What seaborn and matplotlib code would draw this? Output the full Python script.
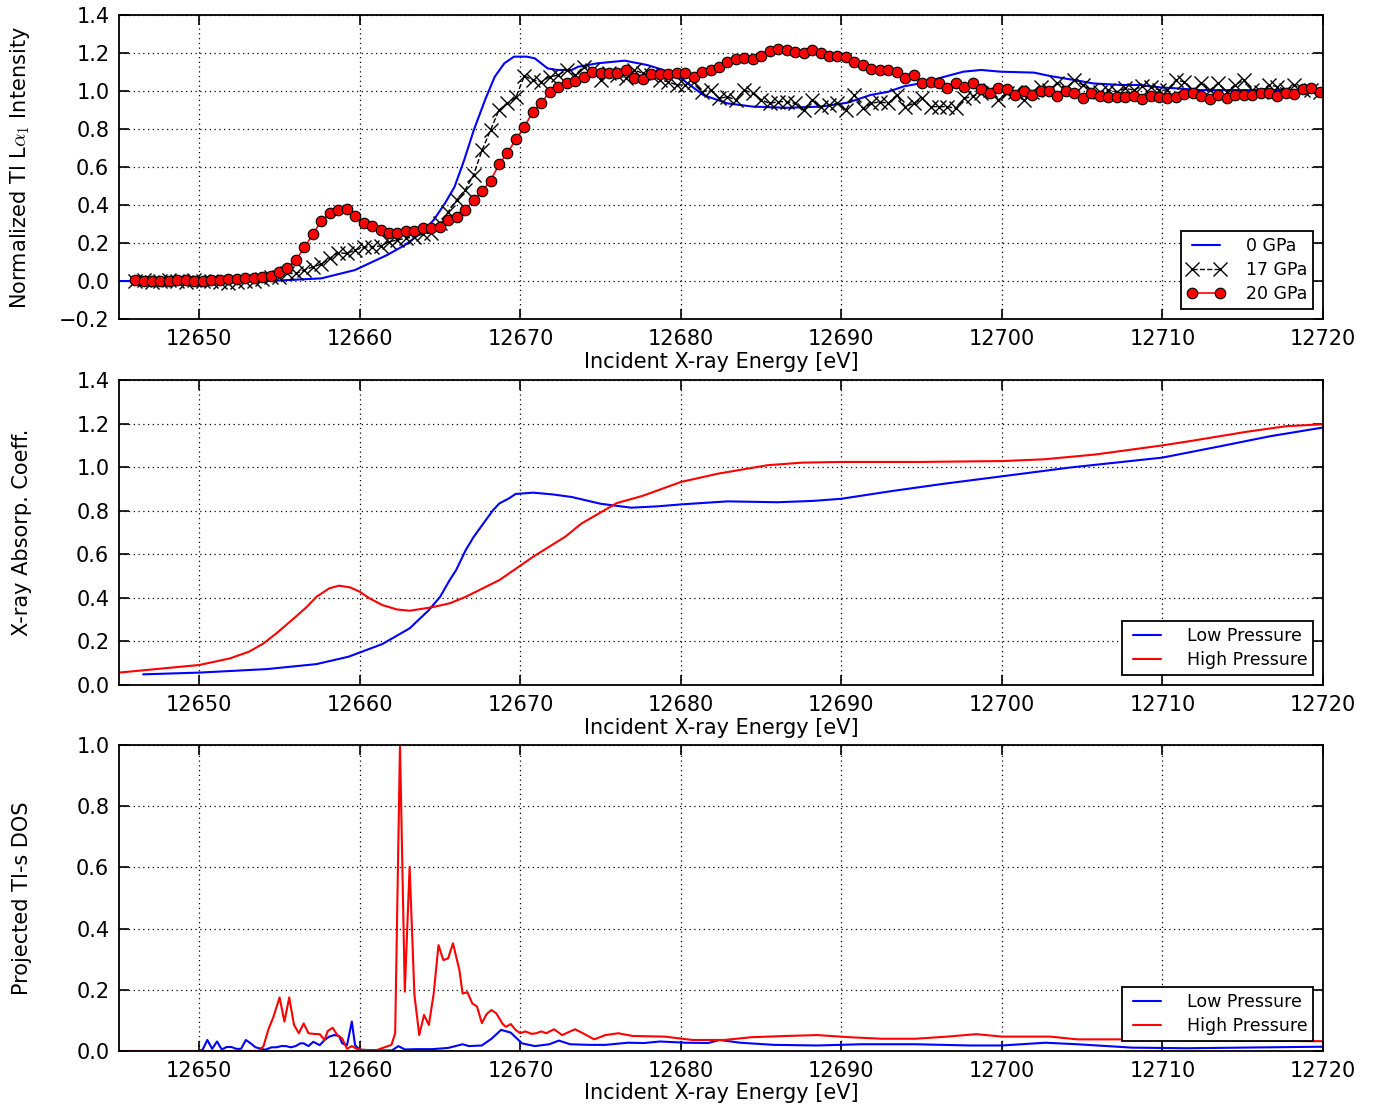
import numpy as np
import pandas as pd
import matplotlib
matplotlib.use("Agg")
from matplotlib import pyplot as plt
import seaborn as sns

# ---------------- top panel: normalized Tl L-alpha1 intensity ----------------
energy_0gpa = [12645.0, 12650.0, 12655.0, 12657.6, 12659.7, 12661.7, 12662.8, 12663.8, 12664.6, 12665.3,
               12665.9, 12666.5, 12667.1, 12667.8, 12668.4, 12669.0, 12669.6, 12670.4, 12670.9, 12671.7,
               12672.3, 12673.2, 12673.6, 12674.8, 12676.5, 12677.9, 12678.9, 12680.0, 12681.4, 12682.9,
               12684.5, 12686.6, 12688.7, 12690.4, 12691.8, 12692.9, 12693.9, 12694.9, 12696.4, 12697.6,
               12698.7, 12699.9, 12702.0, 12703.0, 12704.5, 12705.7, 12707.4, 12708.6, 12709.9, 12710.9,
               12712.4, 12713.8, 12715.5, 12717.5, 12720.0]
intensity_0gpa = [0.0, 0.0, 0.003, 0.014, 0.058, 0.137, 0.189, 0.251, 0.321, 0.409,
                  0.496, 0.637, 0.795, 0.953, 1.075, 1.146, 1.181, 1.181, 1.172, 1.119,
                  1.111, 1.111, 1.128, 1.146, 1.160, 1.137, 1.111, 1.067, 0.979, 0.935,
                  0.918, 0.912, 0.918, 0.939, 0.979, 0.996, 1.025, 1.040, 1.075, 1.102,
                  1.111, 1.102, 1.097, 1.079, 1.058, 1.040, 1.032, 1.032, 1.019, 1.014,
                  1.005, 1.005, 1.005, 1.005, 0.996]

# the 17 and 20 GPa scans share one energy grid (141 points)
energy_scan = np.linspace(12646.0, 12719.8, 141)
intensity_17gpa = [0.0, 0.005, -0.005, 0.0, 0.005, 0.0, -0.005, 0.005, 0.0, 0.0,
                   -0.005, -0.01, -0.005, 0.0, 0.0, 0.01, 0.023, 0.023, 0.040, 0.040,
                   0.058, 0.075, 0.089, 0.119, 0.149, 0.145, 0.163, 0.177, 0.181, 0.184,
                   0.207, 0.216, 0.225, 0.233, 0.247, 0.254, 0.303, 0.365, 0.426, 0.479,
                   0.558, 0.689, 0.795, 0.900, 0.935, 0.967,
                   1.080, 1.058, 1.049, 1.075, 1.084, 1.111, 1.084, 1.128, 1.111, 1.058,
                   1.093, 1.084, 1.067, 1.111, 1.093, 1.084, 1.058, 1.049, 1.032, 1.032,
                   1.049, 0.996, 1.005, 0.961, 0.970, 0.953, 1.005, 0.988, 0.953, 0.935,
                   0.944, 0.944, 0.935, 0.900, 0.953, 0.918, 0.926, 0.935, 0.900, 0.979,
                   0.909, 0.935, 0.944, 0.935, 0.979, 0.918, 0.935, 0.961,
                   0.918, 0.918, 0.918, 0.909, 0.961, 0.974, 0.988, 1.005, 0.953, 0.988,
                   0.996, 0.953, 0.996, 1.023, 1.005, 1.040, 1.014, 1.058, 1.032, 1.005,
                   0.996, 1.005, 0.996, 1.014, 1.005, 1.026, 1.023, 1.005, 1.005, 1.058,
                   1.049, 1.005, 1.040, 1.005, 1.040, 0.996, 1.032, 1.058, 1.005, 0.996,
                   1.032, 1.023, 1.005, 1.032, 1.005, 1.005, 0.996]
intensity_20gpa = [0.005, 0.001, 0.001, 0.001, 0.001, 0.005, 0.005, 0.001, 0.001, 0.005,
                   0.005, 0.009, 0.009, 0.014, 0.014, 0.023, 0.028, 0.046, 0.070, 0.111,
                   0.177, 0.246, 0.316, 0.356, 0.374, 0.379, 0.342, 0.307, 0.291, 0.268,
                   0.254, 0.254, 0.265, 0.265, 0.277, 0.281, 0.286, 0.321, 0.339, 0.374,
                   0.426, 0.474, 0.528, 0.614, 0.675, 0.746,
                   0.812, 0.891, 0.939, 0.996, 1.023, 1.040, 1.054, 1.072, 1.102, 1.097,
                   1.097, 1.097, 1.111, 1.070, 1.063, 1.088, 1.088, 1.088, 1.093, 1.097,
                   1.075, 1.102, 1.111, 1.128, 1.151, 1.167, 1.172, 1.167, 1.186, 1.211,
                   1.219, 1.216, 1.207, 1.202, 1.214, 1.202, 1.186, 1.186, 1.181, 1.154,
                   1.137, 1.116, 1.111, 1.111, 1.102, 1.067, 1.084, 1.044,
                   1.049, 1.044, 1.014, 1.044, 1.023, 1.040, 1.009, 0.988, 1.014, 1.009,
                   0.979, 1.002, 0.979, 1.000, 1.000, 0.974, 1.000, 0.988, 0.961, 0.988,
                   0.974, 0.970, 0.967, 0.970, 0.974, 0.956, 0.974, 0.967, 0.961, 0.967,
                   0.984, 0.988, 0.974, 0.956, 0.979, 0.961, 0.979, 0.979, 0.979, 0.991,
                   0.991, 0.974, 0.991, 0.984, 1.009, 1.018, 0.996]

# ---------------- middle panel: calculated absorption coefficient ----------------
energy_abs_low = [12646.5, 12650.0, 12654.2, 12657.3, 12659.3, 12661.4, 12663.1, 12664.3, 12665.0, 12665.6,
                  12666.0, 12666.6, 12667.1, 12667.7, 12668.3, 12668.7, 12669.3, 12669.7, 12670.8, 12672.0,
                  12673.2, 12675.0, 12676.9, 12678.5, 12680.0, 12682.9, 12686.0, 12688.2, 12690.0, 12693.2,
                  12696.4, 12700.0, 12704.2, 12710.0, 12713.6, 12716.7, 12720.0]
absorp_low = [0.049, 0.057, 0.073, 0.096, 0.130, 0.188, 0.260, 0.344, 0.405, 0.482,
              0.528, 0.620, 0.681, 0.742, 0.803, 0.834, 0.857, 0.877, 0.883, 0.875,
              0.863, 0.832, 0.814, 0.820, 0.829, 0.843, 0.839, 0.845, 0.855, 0.891,
              0.924, 0.958, 0.998, 1.044, 1.096, 1.142, 1.182]
energy_abs_high = [12645.0, 12650.0, 12651.9, 12653.1, 12654.0, 12654.8, 12655.4, 12656.0, 12656.7, 12657.3,
                   12658.1, 12658.7, 12659.4, 12660.0, 12660.6, 12661.4, 12662.3, 12663.1, 12664.5, 12665.6,
                   12666.6, 12668.7, 12670.8, 12672.8, 12673.8, 12676.0, 12677.6, 12680.0, 12682.3, 12685.4,
                   12687.6, 12690.0, 12694.8, 12700.0, 12702.6, 12705.8, 12710.0, 12712.0, 12715.2, 12717.7,
                   12720.0]
absorp_high = [0.057, 0.092, 0.122, 0.153, 0.191, 0.237, 0.275, 0.313, 0.359, 0.405,
               0.444, 0.456, 0.448, 0.428, 0.398, 0.367, 0.347, 0.341, 0.357, 0.375,
               0.405, 0.482, 0.589, 0.681, 0.741, 0.835, 0.868, 0.932, 0.970, 1.009,
               1.021, 1.024, 1.024, 1.028, 1.036, 1.058, 1.100, 1.123, 1.162, 1.188,
               1.197]

# ---------------- bottom panel: projected Tl-s DOS ----------------
energy_dos_low = [12650.0, 12650.2, 12650.5, 12650.8, 12651.1, 12651.4, 12651.7, 12652.0, 12652.3, 12652.6,
                  12652.9, 12653.2, 12653.5, 12653.8, 12654.1, 12654.5, 12654.8, 12655.1, 12655.4, 12655.7,
                  12656.0, 12656.3, 12656.5, 12656.8, 12657.1, 12657.5, 12657.8, 12658.1, 12658.4, 12658.7,
                  12658.9, 12659.2, 12659.5, 12659.7, 12660.0, 12661.0, 12662.0, 12662.4, 12662.8, 12663.5,
                  12664.5, 12665.5, 12666.4, 12666.8, 12667.6, 12668.2, 12668.8, 12669.4, 12670.1, 12670.9,
                  12671.8, 12672.4, 12673.1, 12674.3, 12675.3, 12676.7, 12677.7, 12678.7, 12680.3, 12681.7,
                  12682.4, 12683.7, 12685.8, 12688.5, 12691.2, 12694.6, 12698.0, 12700.0, 12702.7, 12704.7,
                  12708.1, 12711.5, 12714.9, 12720.0]
dos_low = [0.0, 0.004, 0.036, 0.007, 0.031, 0.005, 0.013, 0.013, 0.007, 0.007,
           0.036, 0.025, 0.012, 0.008, 0.004, 0.012, 0.012, 0.016, 0.016, 0.012,
           0.016, 0.025, 0.025, 0.016, 0.030, 0.019, 0.036, 0.047, 0.052, 0.049,
           0.025, 0.019, 0.096, 0.019, 0.004, 0.002, 0.002, 0.016, 0.005, 0.006,
           0.006, 0.010, 0.022, 0.016, 0.018, 0.040, 0.069, 0.060, 0.025, 0.016,
           0.022, 0.034, 0.022, 0.020, 0.020, 0.027, 0.026, 0.031, 0.027, 0.026,
           0.036, 0.027, 0.020, 0.018, 0.022, 0.022, 0.018, 0.018, 0.027, 0.022,
           0.011, 0.009, 0.011, 0.014]
energy_dos_high = [12645.0, 12653.7, 12654.0, 12654.3, 12654.6, 12655.0, 12655.3, 12655.6, 12655.9, 12656.2,
                   12656.5, 12656.8, 12657.1, 12657.5, 12657.8, 12658.0, 12658.3, 12658.6, 12658.9, 12659.2,
                   12659.5, 12659.8, 12660.1, 12661.0, 12661.97, 12662.2, 12662.5, 12662.8, 12663.1, 12663.4,
                   12663.7, 12664.0, 12664.3, 12664.6, 12664.9, 12665.2, 12665.5, 12665.8, 12666.2, 12666.4,
                   12666.7, 12667.0, 12667.3, 12667.6, 12667.9, 12668.2, 12668.5, 12668.9, 12669.1, 12669.4,
                   12669.7, 12670.0, 12670.3, 12670.7, 12671.0, 12671.3, 12671.6, 12672.1, 12672.6, 12673.4,
                   12673.9, 12674.6, 12675.3, 12676.1, 12677.0, 12679.0, 12680.7, 12682.7, 12684.4, 12686.5,
                   12688.5, 12690.5, 12692.5, 12694.6, 12696.6, 12698.4, 12700.0, 12701.3, 12703.0, 12704.7,
                   12707.7, 12712.0, 12720.0]
dos_high = [0.0, 0.0, 0.016, 0.070, 0.109, 0.175, 0.096, 0.175, 0.085, 0.058,
            0.090, 0.058, 0.056, 0.055, 0.036, 0.065, 0.076, 0.052, 0.041, 0.007,
            0.016, 0.007, 0.004, 0.002, 0.020, 0.058, 1.0, 0.194, 0.602, 0.183,
            0.052, 0.118, 0.085, 0.188, 0.346, 0.297, 0.303, 0.352, 0.265, 0.188,
            0.192, 0.156, 0.145, 0.091, 0.121, 0.134, 0.123, 0.088, 0.079, 0.088,
            0.069, 0.058, 0.064, 0.056, 0.058, 0.064, 0.058, 0.071, 0.052, 0.071,
            0.058, 0.038, 0.052, 0.058, 0.049, 0.047, 0.036, 0.036, 0.045, 0.049,
            0.052, 0.045, 0.040, 0.040, 0.047, 0.055, 0.047, 0.047, 0.047, 0.038,
            0.038, 0.035, 0.032]

x_ticks = [12650, 12660, 12670, 12680, 12690, 12700, 12710, 12720]


def fmt_y(v, pos):
    return f"{v:.1f}".replace('-', '\u2212')


def style_axis(ax, ymin, ymax, ystep, ylabel):
    ax.set_xlim(12645, 12720)
    ax.set_ylim(ymin, ymax)
    ax.set_xticks(x_ticks)
    ax.set_yticks(np.arange(ymin, ymax + 1e-9, ystep))
    ax.ticklabel_format(axis='x', useOffset=False, style='plain')
    ax.yaxis.set_major_formatter(matplotlib.ticker.FuncFormatter(fmt_y))
    ax.grid(True, linestyle=(0, (1.0, 2.8)), color='k', linewidth=0.9)
    ax.tick_params(direction='in', top=True, right=True, length=7, width=1.2,
                   labelsize=15, pad=7, colors='k')
    for side in ax.spines.values():
        side.set_linewidth(1.3)
        side.set_color('k')
        side.set_visible(True)
    ax.set_xlabel('Incident X-ray Energy [eV]', fontsize=15, labelpad=2)
    ax.set_ylabel(ylabel, fontsize=15, labelpad=12)


def add_legend(ax):
    leg = ax.legend(loc='lower right', numpoints=2, fontsize=12.5, fancybox=False,
                    framealpha=1, edgecolor='k', borderaxespad=0.55, handlelength=2.2,
                    handletextpad=1.2, labelspacing=0.35, borderpad=0.35)
    leg.get_frame().set_linewidth(1.3)


sns.set_style("ticks")
plt.rcParams['font.family'] = ['DejaVu Sans']
plt.rcParams['mathtext.fontset'] = 'cm'
plt.rcParams['text.color'] = 'k'
plt.rcParams['axes.labelcolor'] = 'k'

fig = plt.figure(figsize=(13.78, 11.07), dpi=100)
ax_top = fig.add_axes([0.0864, 0.7118, 0.8737, 0.2746])
ax_mid = fig.add_axes([0.0864, 0.3812, 0.8737, 0.2755])
ax_bot = fig.add_axes([0.0864, 0.0506, 0.8737, 0.2764])

# top panel
sns.lineplot(x=energy_0gpa, y=intensity_0gpa, ax=ax_top, color='b', linewidth=1.5,
             label='0 GPa', errorbar=None)
sns.lineplot(x=energy_scan, y=intensity_17gpa, ax=ax_top, color='k', linewidth=1.0,
             linestyle='--', marker='x', markersize=10, markeredgecolor='k',
             markeredgewidth=1.0, label='17 GPa', errorbar=None)
sns.lineplot(x=energy_scan, y=intensity_20gpa, ax=ax_top, color='r', linewidth=1.2,
             marker='o', markersize=7.6, markerfacecolor='r', markeredgecolor='k',
             markeredgewidth=0.8, label='20 GPa', errorbar=None)
style_axis(ax_top, -0.2, 1.4, 0.2, r'Normalized Tl L$\alpha_1$ Intensity')
add_legend(ax_top)

# middle panel
sns.lineplot(x=energy_abs_low, y=absorp_low, ax=ax_mid, color='b', linewidth=1.5,
             label='Low Pressure', errorbar=None)
sns.lineplot(x=energy_abs_high, y=absorp_high, ax=ax_mid, color='r', linewidth=1.5,
             label='High Pressure', errorbar=None)
style_axis(ax_mid, 0.0, 1.4, 0.2, 'X-ray Absorp. Coeff.')
add_legend(ax_mid)

# bottom panel
sns.lineplot(x=energy_dos_low, y=dos_low, ax=ax_bot, color='b', linewidth=1.5,
             label='Low Pressure', errorbar=None)
sns.lineplot(x=energy_dos_high, y=dos_high, ax=ax_bot, color='r', linewidth=1.5,
             label='High Pressure', errorbar=None)
style_axis(ax_bot, 0.0, 1.0, 0.2, 'Projected Tl-s DOS')
add_legend(ax_bot)

for ax in (ax_top, ax_mid, ax_bot):
    ax.yaxis.set_label_coords(-0.072, 0.5)

fig.savefig('out.png', dpi=100, facecolor='white')
